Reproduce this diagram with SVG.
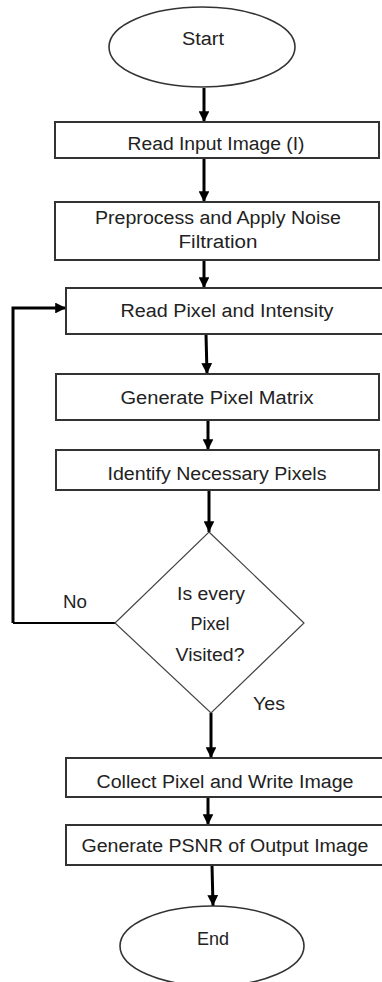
<svg xmlns="http://www.w3.org/2000/svg" width="382" height="982" viewBox="0 0 382 982">
<style>
.box{fill:#fff;stroke:#333;stroke-width:2}
.term{fill:#fff;stroke:#333;stroke-width:1.6}
.dec{fill:#fff;stroke:#444;stroke-width:1.2}
.t{font-family:"Liberation Sans",Arial,sans-serif;font-size:18px;fill:#222;text-anchor:middle}
.lbl{font-family:"Liberation Sans",Arial,sans-serif;font-size:18px;fill:#222}
.c{fill:none;stroke:#000;stroke-width:3}
.c2{fill:none;stroke:#000;stroke-width:2}
</style>
<defs>
<marker id="ah" viewBox="0 0 10 10" refX="10" refY="5" markerWidth="3.6" markerHeight="3.6" markerUnits="strokeWidth" orient="auto">
<path d="M0,0 L10,5 L0,10 Z" fill="#000"/>
</marker>
</defs>
<rect width="382" height="982" fill="#fff"/>
<g id="connectors">
<line class="c" x1="204" y1="88" x2="204" y2="122" marker-end="url(#ah)"/>
<line class="c" x1="204" y1="158" x2="204" y2="202" marker-end="url(#ah)"/>
<line class="c" x1="204" y1="260" x2="204" y2="288" marker-end="url(#ah)"/>
<line class="c" x1="206" y1="334" x2="207" y2="374" marker-end="url(#ah)"/>
<line class="c" x1="208" y1="420" x2="208" y2="450" marker-end="url(#ah)"/>
<line class="c" x1="209" y1="490" x2="209" y2="532" marker-end="url(#ah)"/>
<line class="c" x1="211" y1="713" x2="211" y2="758" marker-end="url(#ah)"/>
<line class="c" x1="208" y1="797" x2="208" y2="825" marker-end="url(#ah)"/>
<line class="c" x1="212" y1="865" x2="213" y2="906" marker-end="url(#ah)"/>
<polyline class="c2" points="115,623 13,623"/>
<polyline class="c" points="13,623 13,308 66,308" marker-end="url(#ah)"/>
</g>
<g id="start">
<ellipse class="term" cx="202" cy="47" rx="93" ry="40"/>
<text class="t" x="203" y="45" textLength="42" lengthAdjust="spacingAndGlyphs">Start</text>
</g>
<g id="read-input">
<rect class="box" x="55" y="122" width="324" height="36"/>
<text class="t" x="216" y="150" textLength="177" lengthAdjust="spacingAndGlyphs">Read Input Image (I)</text>
</g>
<g id="preprocess">
<rect class="box" x="55" y="202" width="324" height="58"/>
<text class="t" x="218" y="224" textLength="246" lengthAdjust="spacingAndGlyphs">Preprocess and Apply Noise</text>
<text class="t" x="218" y="248" textLength="79" lengthAdjust="spacingAndGlyphs">Filtration</text>
</g>
<g id="read-pixel">
<rect class="box" x="66" y="288" width="322" height="46"/>
<text class="t" x="227" y="317" textLength="213" lengthAdjust="spacingAndGlyphs">Read Pixel and Intensity</text>
</g>
<g id="gen-matrix">
<rect class="box" x="56" y="374" width="323" height="46"/>
<text class="t" x="217" y="404" textLength="193" lengthAdjust="spacingAndGlyphs">Generate Pixel Matrix</text>
</g>
<g id="identify">
<rect class="box" x="56" y="450" width="323" height="40"/>
<text class="t" x="217" y="480" textLength="219" lengthAdjust="spacingAndGlyphs">Identify Necessary Pixels</text>
</g>
<g id="decision">
<polygon class="dec" points="209,532 304,623 211,713 115,623"/>
<text class="t" x="211" y="600" textLength="68" lengthAdjust="spacingAndGlyphs">Is every</text>
<text class="t" x="210" y="630" textLength="39" lengthAdjust="spacingAndGlyphs">Pixel</text>
<text class="t" x="210" y="661" textLength="69" lengthAdjust="spacingAndGlyphs">Visited?</text>
<text class="lbl" x="63" y="608" textLength="24" lengthAdjust="spacingAndGlyphs">No</text>
<text class="lbl" x="253" y="710" textLength="32" lengthAdjust="spacingAndGlyphs">Yes</text>
</g>
<g id="collect">
<rect class="box" x="66" y="758" width="322" height="39"/>
<text class="t" x="225" y="788" textLength="257" lengthAdjust="spacingAndGlyphs">Collect Pixel and Write Image</text>
</g>
<g id="psnr">
<rect class="box" x="66" y="825" width="322" height="40"/>
<text class="t" x="225" y="852" textLength="287" lengthAdjust="spacingAndGlyphs">Generate PSNR of Output Image</text>
</g>
<g id="end">
<ellipse class="term" cx="212" cy="946" rx="92" ry="40"/>
<text class="t" x="213" y="945" textLength="32" lengthAdjust="spacingAndGlyphs">End</text>
</g>
</svg>
